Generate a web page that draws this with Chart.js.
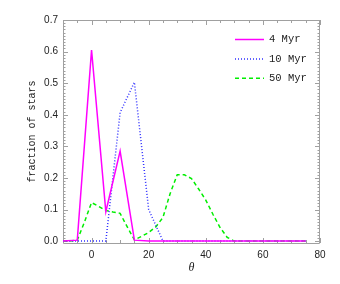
<!DOCTYPE html>
<html>
<head>
<meta charset="utf-8">
<script src="https://cdn.jsdelivr.net/npm/chart.js@4/dist/chart.umd.min.js"></script>
<style>
html,body{margin:0;padding:0;background:#fff;}
canvas{display:block;}
</style>
</head>
<body>
<canvas id="c" width="340" height="284"></canvas>
<script>
// theta bins (5 deg) used by 4 Myr and 10 Myr
const thetaBins = [-10,-5,0,5,10,15,20,25,30,35,40,45,50,55,60,65,70,75];
const myr4  = [0,0.003,0.605,0.093,0.285,0.003,0,0,0,0,0,0,0,0,0,0,0,0];
const myr10 = [0,0,0,0,0.407,0.503,0.1,0,0,0,0,0,0,0,0,0,0,0];
// finer theta sampling for 50 Myr
const thetaFine = [-10,-7.5,-5,-2.5,0,2.5,5,7.5,10,12.5,15,17.5,20,22.5,25,27.5,30,32.5,35,37.5,40,42.5,45,47.5,50,55,60,65,70,75];
const myr50 = [0,0,0.003,0.06,0.122,0.11,0.097,0.092,0.088,0.045,0.004,0.015,0.027,0.045,0.075,0.15,0.21,0.21,0.198,0.165,0.13,0.085,0.043,0.012,0,0,0,0,0,0];
const xTickLabels = [0,20,40,60,80];
const yTickLabels = [0,0.1,0.2,0.3,0.4,0.5,0.6,0.7];
const seriesNames = ['4 Myr','10 Myr','50 Myr'];

const toXY = (xs, ys) => xs.map((x,i)=>({x:x,y:ys[i]}));
const AXIS = '#a0a0a0';

const frame = {
  id:'frame',
  beforeDatasetsDraw(chart){
    const {ctx, chartArea:a, scales:{x,y}} = chart;
    ctx.save();
    ctx.strokeStyle = AXIS;
    ctx.lineWidth = 1;
    ctx.beginPath();
    ctx.rect(a.left+0.5, a.top+0.5, a.right-a.left-1, a.bottom-a.top);
    for(let v=-10; v<=80; v+=5){
      const px = Math.round(x.getPixelForValue(v))+0.5;
      const len = (v%20===0)?5:3;
      ctx.moveTo(px,a.bottom); ctx.lineTo(px,a.bottom-len);
      ctx.moveTo(px,a.top); ctx.lineTo(px,a.top+len);
    }
    for(let i=0;i<=70;i++){
      const v = i/100;
      const py = Math.round(y.getPixelForValue(v))+0.5;
      const len = (i%10===0)?5:2.5;
      ctx.moveTo(a.left,py); ctx.lineTo(a.left+len,py);
      ctx.moveTo(a.right,py); ctx.lineTo(a.right-len,py);
    }
    ctx.stroke();
    ctx.restore();
  },
  afterDraw(chart){
    const {ctx, chartArea:a} = chart;
    ctx.save();
    ctx.fillStyle = '#222';
    ctx.font = '10px "Liberation Mono"';
    ctx.textAlign='center'; ctx.textBaseline='middle';
    ctx.translate(32,(a.top+a.bottom)/2);
    ctx.rotate(-Math.PI/2);
    ctx.fillText('fraction of stars',0,0);
    ctx.restore();
    ctx.save();
    ctx.fillStyle='#222';
    ctx.font = 'italic 12px "Liberation Serif"';
    ctx.textAlign='center'; ctx.textBaseline='middle';
    ctx.fillText('θ',(a.left+a.right)/2,268);
    const ds = chart.data.datasets;
    ctx.font = '10.5px "Liberation Mono"';
    ctx.textAlign='left';
    for(let i=0;i<ds.length;i++){
      const yy = 39.5 + i*19.4;
      ctx.save();
      ctx.strokeStyle = ds[i].borderColor;
      ctx.lineWidth = ds[i].borderWidth;
      ctx.setLineDash(ds[i].borderDash||[]);
      ctx.beginPath(); ctx.moveTo(235,yy); ctx.lineTo(264,yy); ctx.stroke();
      ctx.restore();
      ctx.fillText(seriesNames[i],269,yy);
    }
    ctx.restore();
  }
};

new Chart(document.getElementById('c'),{
  type:'line',
  data:{datasets:[
    {label:seriesNames[0], data:toXY(thetaBins,myr4), borderColor:'#ff00ff', borderWidth:1.5, pointRadius:0, tension:0},
    {label:seriesNames[1], data:toXY(thetaBins,myr10), borderColor:'#3030ff', borderWidth:1.5, borderDash:[1,2], pointRadius:0, tension:0},
    {label:seriesNames[2], data:toXY(thetaFine,myr50), borderColor:'#00ee00', borderWidth:1.5, borderDash:[4,3], pointRadius:0, tension:0}
  ]},
  options:{
    responsive:false, animation:false, devicePixelRatio:1,
    layout:{padding:{top:20,right:20,left:0,bottom:0}},
    plugins:{legend:{display:false}, tooltip:{enabled:false}},
    scales:{
      x:{type:'linear', min:-10, max:80,
        grid:{display:false, drawTicks:false}, border:{display:false},
        afterBuildTicks(s){ s.ticks = xTickLabels.map(v=>({value:v})); },
        afterFit(s){ s.height = 41; },
        ticks:{padding:6, color:'#222', font:{family:'"Liberation Sans"', size:10}, maxRotation:0,
          callback:(v)=>String(v)}
      },
      y:{type:'linear', min:-0.006, max:0.7,
        grid:{display:false, drawTicks:false}, border:{display:false},
        afterBuildTicks(s){ s.ticks = yTickLabels.map(v=>({value:v})); },
        afterFit(s){ s.width = 63; },
        ticks:{padding:5, color:'#222', font:{family:'"Liberation Sans"', size:10},
          callback:(v)=>Number(v).toFixed(1)}
      }
    }
  },
  plugins:[frame]
});
</script>
</body>
</html>
